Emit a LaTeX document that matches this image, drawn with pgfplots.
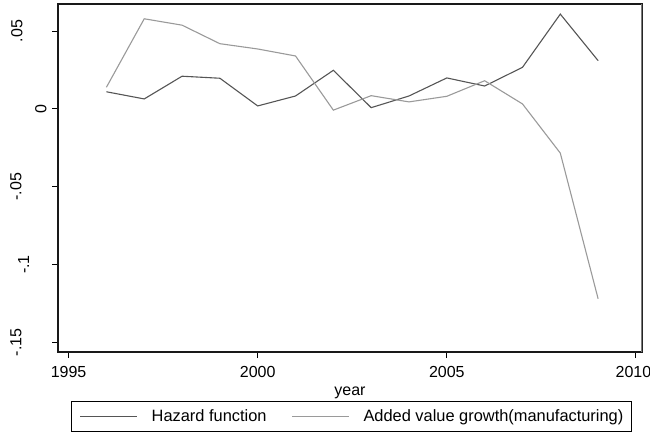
\documentclass[border=0pt]{standalone}
\usepackage{pgfplots}
\pgfplotsset{compat=1.18}
\usepackage{fontspec}
\setmainfont{Liberation Sans}
\usepackage{graphicx}
\definecolor{hazc}{HTML}{555555}
\definecolor{growc}{HTML}{9A9A9A}
\newcommand\rotlab[2]{\rotatebox{90}{#1}\kern#2pt}
\pgfplotstableread{
year hazard growth
1996 0.0110 0.0139
1997 0.0064 0.0579
1998 0.0210 0.0538
1999 0.0197 0.0419
2000 0.0019 0.0385
2001 0.0083 0.0340
2002 0.0248 -0.0008
2003 0.0008 0.0085
2004 0.0083 0.0045
2005 0.0199 0.0081
2006 0.0147 0.0181
2007 0.0267 0.0032
2008 0.0609 -0.0284
2009 0.0310 -0.1220
}\datatable
\begin{document}
\begin{tikzpicture}[x=1pt,y=1pt]
\begin{axis}[
  at={(58pt,85pt)}, anchor=south west,
  scale only axis, width=584pt, height=348pt,
  xmin=1994.72, xmax=2010.16,
  ymin=-0.1562, ymax=0.0674,
  font=\fontsize{16}{19}\selectfont,
  axis line style={line width=1.2pt, black!90},
  xtick={1995,2000,2005,2010},
  xticklabels={1995,2000,2005,2010\kern5pt},
  ytick={-0.15,-0.1,-0.05,0,0.05},
  yticklabels={\rotlab{-.15}{25},\rotlab{-.1}{17.5},\rotlab{-.05}{25},\rotlab{0}{0},\rotlab{.05}{24}},
  tick align=outside,
  xtick pos=bottom, ytick pos=left,
  major tick length=6pt,
  every tick/.style={black, line width=1pt},
  xticklabel style={inner sep=0pt, anchor=north, yshift=-8pt},
  yticklabel style={inner sep=0pt, anchor=east, xshift=-5.3pt},
  xlabel={year},
  xlabel style={at={(axis description cs:0.5,-0.1164)}, anchor=center, inner sep=0pt},
  legend columns=2,
  legend style={at={(axis description cs:0.5026,-0.1408)}, anchor=north,
    draw=black, line width=0.8pt, inner xsep=8pt, inner ysep=8.5pt,
    font=\fontsize{16.4}{19}\selectfont,
    nodes={inner sep=0pt},
    /tikz/every odd column/.style={column sep=14pt},
    /tikz/every even column/.style={column sep=25pt}},
  legend image code/.code={\draw[#1, line width=1pt] (0pt,0pt) -- (57pt,0pt);},
]
\addplot[hazc, line width=1.1pt] table[x=year, y=hazard] {\datatable};
\addlegendentry{Hazard function}
\addplot[growc, line width=1.1pt] table[x=year, y=growth] {\datatable};
\addlegendentry{Added value growth(manufacturing)}
\draw[growc!80!black, line width=1.2pt] (rel axis cs:1,0) -- (rel axis cs:1,1);
\end{axis}
\pgfresetboundingbox
\path[use as bounding box] (0,0) rectangle (650,437);
\end{tikzpicture}
\end{document}
